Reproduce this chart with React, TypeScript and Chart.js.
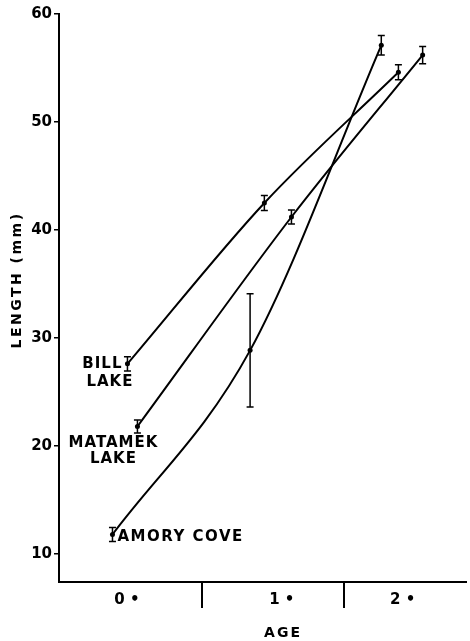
import React, { useEffect, useRef } from 'react';
import { Chart, registerables } from 'chart.js';

Chart.register(...registerables);

// ---- data ----
const billAge = [0.48, 1.44, 2.38];
const billLength = [27.6, 42.5, 54.6];
const billError = [0.65, 0.7, 0.7];

const matamekAge = [0.55, 1.63, 2.55];
const matamekLength = [21.8, 41.2, 56.2];
const matamekError = [0.6, 0.65, 0.8];

const amoryAge = [0.375, 1.34, 2.26];
const amoryLength = [11.8, 28.85, 57.1];
const amoryError = [0.65, 5.25, 0.9];

const yTickValues = [10, 20, 30, 40, 50, 60];
const ageBoundaries = [1, 2];
const ageClassCenters = [0.476, 1.5625, 2.41];
const ageClassLabels = ['0 •', '1 •', '2 •'];

const yTitle = 'LENGTH (mm)';
const xTitle = 'AGE';

const FONT = '"DejaVu Sans", sans-serif';

type Series = { name: string[]; age: number[]; len: number[]; err: number[] };
const series: Series[] = [
  { name: ['BILL', 'LAKE'], age: billAge, len: billLength, err: billError },
  { name: ['MATAMEK', 'LAKE'], age: matamekAge, len: matamekLength, err: matamekError },
  { name: ['AMORY COVE'], age: amoryAge, len: amoryLength, err: amoryError },
];

const annotatePlugin = {
  id: 'annotate',
  afterDatasetsDraw(chart: any) {
    const { ctx, scales, chartArea } = chart;
    const xs = scales.x;
    const ys = scales.y;
    ctx.save();
    ctx.strokeStyle = '#000';
    ctx.fillStyle = '#000';
    ctx.lineWidth = 1.5;
    // error bars
    series.forEach((s) => {
      s.age.forEach((a, i) => {
        const x = xs.getPixelForValue(a);
        const yt = ys.getPixelForValue(s.len[i] + s.err[i]);
        const yb = ys.getPixelForValue(s.len[i] - s.err[i]);
        ctx.beginPath();
        ctx.moveTo(x, yt);
        ctx.lineTo(x, yb);
        ctx.moveTo(x - 3.5, yt);
        ctx.lineTo(x + 3.5, yt);
        ctx.moveTo(x - 3.5, yb);
        ctx.lineTo(x + 3.5, yb);
        ctx.stroke();
      });
    });

    // series labels (placed next to each series' first point)
    ctx.font = `bold 15px ${FONT}`;
    (ctx as any).letterSpacing = '1px';
    ctx.textBaseline = 'middle';
    const p = (s: Series) => ({ x: xs.getPixelForValue(s.age[0]), y: ys.getPixelForValue(s.len[0]) });

    const b = p(series[0]);
    ctx.textAlign = 'right';
    ctx.fillText(series[0].name[0], b.x - 5, b.y);
    ctx.fillText(series[0].name[1], b.x + 6, b.y + 18);

    const m = p(series[1]);
    ctx.textAlign = 'center';
    ctx.fillText(series[1].name[0], m.x - 24, m.y + 17);
    ctx.fillText(series[1].name[1], m.x - 24, m.y + 33);

    const a = p(series[2]);
    (ctx as any).letterSpacing = '1.5px';
    ctx.textAlign = 'left';
    ctx.fillText(series[2].name[0], a.x + 5, a.y + 3);

    // axis titles
    ctx.font = `bold 14px ${FONT}`;
    (ctx as any).letterSpacing = '2px';
    ctx.textAlign = 'center';
    ctx.fillText(xTitle, chartArea.left + 224, chartArea.bottom + 51);

    ctx.save();
    ctx.font = `bold 14px ${FONT}`;
    (ctx as any).letterSpacing = '2.5px';
    ctx.translate(chartArea.left - 42, (chartArea.top + chartArea.bottom) / 2 - 18);
    ctx.rotate(-Math.PI / 2);
    ctx.fillText(yTitle, 0, 0);
    ctx.restore();

    ctx.restore();
  },
};

export default function App() {
  const ref = useRef<HTMLCanvasElement | null>(null);

  useEffect(() => {
    if (!ref.current) return;
    const chart = new Chart(ref.current, {
      type: 'line',
      data: {
        datasets: series.map((s) => ({
          label: s.name.join(' '),
          data: s.age.map((a, i) => ({ x: a, y: s.len[i] })),
          borderColor: '#000',
          borderWidth: 2,
          cubicInterpolationMode: 'monotone',
          pointRadius: 2.5,
          pointBackgroundColor: '#000',
          pointBorderWidth: 0,
          fill: false,
        })),
      },
      options: {
        animation: false,
        responsive: false,
        layout: { padding: { top: 14, left: 0, right: 0, bottom: 0 } },
        plugins: { legend: { display: false }, tooltip: { enabled: false } },
        scales: {
          x: {
            type: 'linear',
            min: 0,
            max: 2.854,
            afterBuildTicks: (s: any) => {
              s.ticks = [...ageBoundaries, ...ageClassCenters]
                .sort((p, q) => p - q)
                .map((v) => ({ value: v }));
            },
            afterFit: (s: any) => {
              s.height = 59;
            },
            grid: {
              drawOnChartArea: false,
              drawTicks: true,
              tickLength: 26,
              lineWidth: 2,
              color: (c: any) =>
                c.tick && ageBoundaries.includes(c.tick.value) ? '#000' : 'rgba(0,0,0,0)',
            },
            border: { display: true, color: '#000', width: 2 },
            ticks: {
              autoSkip: false,
              maxRotation: 0,
              padding: -17,
              color: '#000',
              font: { family: FONT, size: 15, weight: 'bold' },
              callback: (v: any) => {
                const i = ageClassCenters.indexOf(Number(v));
                return i >= 0 ? ageClassLabels[i] : '';
              },
            },
          },
          y: {
            type: 'linear',
            min: 7.4,
            max: 60,
            afterBuildTicks: (s: any) => {
              s.ticks = yTickValues.map((v) => ({ value: v }));
            },
            afterFit: (s: any) => {
              s.width = 59;
            },
            grid: {
              drawOnChartArea: false,
              drawTicks: true,
              tickLength: 5,
              lineWidth: 1.5,
              color: '#000',
            },
            border: { display: true, color: '#000', width: 2 },
            ticks: {
              padding: 2,
              color: '#000',
              font: { family: FONT, size: 15, weight: 'bold' },
              callback: (v: any) => String(v),
            },
          },
        },
      },
      plugins: [annotatePlugin],
    } as any);
    return () => chart.destroy();
  }, []);

  return (
    <div style={{ position: 'fixed', left: 0, top: 0, width: 470, height: 641, background: '#fff' }}>
      <canvas ref={ref} width={470} height={641} style={{ display: 'block' }} />
    </div>
  );
}
